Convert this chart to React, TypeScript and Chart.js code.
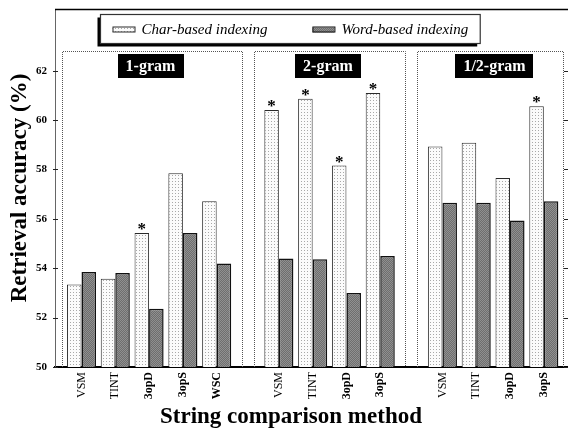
import React, { useEffect, useRef } from 'react';
import { Chart, registerables } from 'chart.js';

Chart.register(...registerables);

// ---------------- data ----------------
const groupNames = ['1-gram', '2-gram', '1/2-gram'];
const groupMethods = [
  ['VSM', 'TINT', '3opD', '3opS', 'WSC'],
  ['VSM', 'TINT', '3opD', '3opS'],
  ['VSM', 'TINT', '3opD', '3opS'],
];
const boldMethods = ['3opD', '3opS', 'WSC'];
const seriesLabels = ['Char-based indexing', 'Word-based indexing'];
const charValues = [53.34, 53.57, 55.43, 57.85, 56.71, 60.41, 60.86, 58.16, 61.1, 58.93, 59.08, 57.65, 60.56];
const wordValues = [53.85, 53.81, 52.36, 55.43, 54.19, 54.39, 54.36, 53.0, 54.5, 56.65, 56.65, 55.93, 56.71];
const charStarred = [false, false, true, false, false, true, true, true, true, false, false, false, true];
const yTicks = [50, 52, 54, 56, 58, 60, 62];
const yTitle = 'Retrieval accuracy (%)';
const xTitle = 'String comparison method';

// ---------------- layout helpers ----------------
const GROUP_GAP = 1.84;
const allMethods: string[] = [];
const positions: number[] = [];
const groupRanges: [number, number][] = []; // index ranges into positions
{
  let p = 0;
  groupMethods.forEach((ms) => {
    const startIdx = positions.length;
    ms.forEach((m) => {
      allMethods.push(m);
      positions.push(p);
      p += 1;
    });
    groupRanges.push([startIdx, positions.length - 1]);
    p += GROUP_GAP - 1;
  });
}
const X_MIN = positions[0] - 0.784;
const X_MAX = positions[positions.length - 1] + 0.686;

const SERIF = 'Liberation Serif';

function makePattern(kind: 'char' | 'word'): CanvasPattern | string {
  const c = document.createElement('canvas');
  const g = c.getContext('2d');
  if (!g) return kind === 'char' ? '#eee' : '#808080';
  if (kind === 'char') {
    c.width = 3;
    c.height = 3;
    g.fillStyle = '#fbfbfb';
    g.fillRect(0, 0, 3, 3);
    g.fillStyle = '#a8a8a8';
    g.fillRect(1, 1, 1, 1);
  } else {
    c.width = 2;
    c.height = 2;
    g.fillStyle = '#6e6e6e';
    g.fillRect(0, 0, 2, 2);
    g.fillStyle = '#909090';
    g.fillRect(0, 0, 1, 1);
    g.fillRect(1, 1, 1, 1);
  }
  return g.createPattern(c, 'repeat') || '#888';
}

const legendCenterX = (ca: any) => (ca.left + ca.right) / 2 - 21;

const decorPlugin = {
  id: 'decor',
  beforeDatasetsDraw(chart: any) {
    const { ctx, chartArea: ca, scales } = chart;
    const x = scales.x;
    ctx.save();
    // dotted group boxes + labels
    groupRanges.forEach(([s, e], g) => {
      const first = positions[s];
      const last = positions[e];
      const leftU = g === 0 ? first - 0.58 : (positions[s - 1] + first) / 2 + 0.18;
      const rightU = g === groupRanges.length - 1 ? last + 0.58 : (last + positions[e + 1]) / 2 - 0.18;
      const l = Math.round(x.getPixelForValue(leftU)) + 0.5;
      const r = Math.round(x.getPixelForValue(rightU)) + 0.5;
      const t = ca.top + 42.5;
      const b = ca.bottom;
      ctx.strokeStyle = '#555';
      ctx.lineWidth = 1;
      ctx.setLineDash([1, 1]);
      ctx.beginPath();
      ctx.moveTo(l, b);
      ctx.lineTo(l, t);
      ctx.lineTo(r, t);
      ctx.lineTo(r, b);
      ctx.stroke();
      ctx.setLineDash([]);
      // label
      ctx.font = `bold 16px "${SERIF}"`;
      const tw = ctx.measureText(groupNames[g]).width;
      const cx = (l + r) / 2 + (g === 2 ? 4 : -2);
      const bw = tw + 16;
      const bt = ca.top + 45;
      ctx.fillStyle = '#000';
      ctx.fillRect(Math.round(cx - bw / 2), bt, Math.round(bw), 24);
      ctx.fillStyle = '#fff';
      ctx.textAlign = 'center';
      ctx.textBaseline = 'middle';
      ctx.fillText(groupNames[g], cx, bt + 13);
    });
    // top frame line
    ctx.strokeStyle = '#000';
    ctx.lineWidth = 1.5;
    ctx.beginPath();
    ctx.moveTo(ca.left, ca.top + 0.5);
    ctx.lineTo(chart.width, ca.top + 0.5);
    ctx.stroke();
    // y ticks on both sides
    const y = scales.y;
    ctx.lineWidth = 1;
    ctx.strokeStyle = '#222';
    yTicks.forEach((v) => {
      const py = Math.round(y.getPixelForValue(v)) + 0.5;
      ctx.beginPath();
      ctx.moveTo(ca.left - 2, py);
      ctx.lineTo(ca.left + 3, py);
      ctx.moveTo(ca.right - 3, py);
      ctx.lineTo(ca.right + 1, py);
      ctx.stroke();
    });
    ctx.restore();
  },
  afterDatasetsDraw(chart: any) {
    const { ctx } = chart;
    const meta = chart.getDatasetMeta(0);
    ctx.save();
    ctx.fillStyle = '#000';
    ctx.font = `bold 17px "${SERIF}"`;
    ctx.textAlign = 'center';
    ctx.textBaseline = 'alphabetic';
    meta.data.forEach((bar: any, i: number) => {
      if (charStarred[i]) ctx.fillText('*', bar.x, bar.y + 1);
    });
    ctx.restore();
  },
  afterDraw(chart: any) {
    const { ctx, chartArea: ca } = chart;
    const ds = chart.data.datasets;
    ctx.save();
    // x-axis title
    ctx.fillStyle = '#000';
    ctx.font = `bold 23px "${SERIF}"`;
    ctx.textAlign = 'center';
    ctx.textBaseline = 'alphabetic';
    ctx.fillText(xTitle, legendCenterX(ca) + 1, chart.height - 5);

    // legend
    ctx.font = `italic 15px "${SERIF}"`;
    const sw = 22;
    const gapSwText = 7;
    const gapItems = 45;
    const pad = 12;
    const widths = ds.map((d: any) => ctx.measureText(d.label).width);
    const total = widths.reduce((a: number, w: number) => a + sw + gapSwText + w, 0) + gapItems * (ds.length - 1);
    const boxW = total + pad * 2;
    const boxH = 29;
    const cx = legendCenterX(ca);
    const bl = Math.round(cx - boxW / 2) + 0.5;
    const bt = ca.top + 5.5;
    ctx.fillStyle = '#000';
    ctx.fillRect(bl - 3, bt + 3, boxW, boxH);
    ctx.fillStyle = '#fff';
    ctx.fillRect(bl, bt, boxW, boxH);
    ctx.strokeStyle = '#333';
    ctx.lineWidth = 1.2;
    ctx.strokeRect(bl, bt, boxW, boxH);
    let px = bl + pad;
    ds.forEach((d: any, i: number) => {
      ctx.fillStyle = d.backgroundColor;
      ctx.fillRect(px, bt + 13, sw, 5);
      ctx.strokeStyle = d.borderColor;
      ctx.lineWidth = 1;
      ctx.strokeRect(px + 0.5, bt + 12.5, sw, 5);
      px += sw + gapSwText;
      ctx.fillStyle = '#000';
      ctx.textAlign = 'left';
      ctx.textBaseline = 'alphabetic';
      ctx.fillText(d.label, px, bt + 19.5);
      px += widths[i] + gapItems;
    });
    ctx.restore();
  },
};

export default function App() {
  const ref = useRef<HTMLCanvasElement | null>(null);

  useEffect(() => {
    const canvas = ref.current;
    if (!canvas) return;
    const charPattern = makePattern('char');
    const wordPattern = makePattern('word');

    const chart = new Chart(canvas, {
      type: 'bar',
      data: {
        datasets: [
          {
            label: seriesLabels[0],
            data: positions.map((p, i) => ({ x: p, y: charValues[i] })),
            backgroundColor: charPattern as any,
            borderColor: '#2a2a2a',
            borderWidth: 1,
            borderSkipped: 'bottom',
            categoryPercentage: 0.86,
            barPercentage: 1,
          },
          {
            label: seriesLabels[1],
            data: positions.map((p, i) => ({ x: p, y: wordValues[i] })),
            backgroundColor: wordPattern as any,
            borderColor: '#111',
            borderWidth: 1.5,
            borderSkipped: 'bottom',
            categoryPercentage: 0.86,
            barPercentage: 1,
          },
        ],
      },
      options: {
        responsive: false,
        animation: false,
        layout: { padding: { top: 9, right: 1, left: 0, bottom: 0 } },
        plugins: {
          legend: { display: false },
          tooltip: { enabled: false },
        },
        scales: {
          x: {
            type: 'linear',
            offset: false,
            min: X_MIN,
            max: X_MAX,
            afterBuildTicks: (s: any) => {
              s.ticks = positions.map((v) => ({ value: v }));
            },
            afterFit: (s: any) => {
              s.height = 61;
              s.paddingLeft = 0;
              s.paddingRight = 0;
            },
            grid: { display: false, drawTicks: false },
            border: { display: true, color: '#000', width: 2 },
            ticks: {
              autoSkip: false,
              minRotation: 90,
              maxRotation: 90,
              padding: 5,
              color: '#000',
              callback: (_v: any, i: number) => allMethods[i],
              font: (c: any) => ({
                family: SERIF,
                size: 12,
                weight: boldMethods.includes(allMethods[c.index]) ? 'bold' : 'normal',
              }),
            },
            title: { display: false },
          } as any,
          y: {
            min: 50,
            max: 64.5,
            afterBuildTicks: (s: any) => {
              s.ticks = yTicks.map((v) => ({ value: v }));
            },
            afterFit: (s: any) => {
              s.width = 55;
              s.paddingTop = 0;
              s.paddingBottom = 0;
            },
            grid: { display: false, drawTicks: false },
            border: { display: true, color: '#666', width: 1 },
            ticks: {
              padding: 8,
              color: '#000',
              font: { family: SERIF, size: 11, weight: 'bold' },
            },
            title: {
              display: true,
              text: yTitle,
              color: '#000',
              font: { family: SERIF, size: 23, weight: 'bold' },
              padding: { top: 6, bottom: 0 },
            },
          } as any,
        },
      },
      plugins: [decorPlugin],
    });
    return () => chart.destroy();
  }, []);

  return (
    <div style={{ position: 'fixed', left: 0, top: 0, width: 568, height: 428, background: '#fff' }}>
      <canvas ref={ref} width={568} height={428} style={{ display: 'block' }} />
    </div>
  );
}
